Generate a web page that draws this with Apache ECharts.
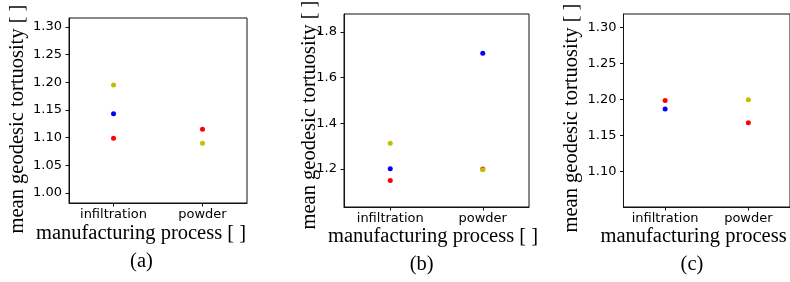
<!DOCTYPE html>
<html>
<head>
<meta charset="utf-8">
<script src="https://cdn.jsdelivr.net/npm/echarts@6/dist/echarts.min.js"></script>
<style>
  html, body { margin: 0; padding: 0; background: #fff; }
  #main { width: 790px; height: 282px; }
</style>
</head>
<body>
<div id="main"></div>
<script>
var categories = ['infiltration', 'powder'];

// panel (a)
var redA = [1.099, 1.115];
var blueA = [1.143, '-'];
var yellowA = [1.195, 1.090];
var ticksA = [1.00, 1.05, 1.10, 1.15, 1.20, 1.25, 1.30];

// panel (b)
var redB = [1.150, 1.200];
var blueB = [1.201, 1.707];
var yellowB = [1.313, 1.197];
var ticksB = [1.2, 1.4, 1.6, 1.8];

// panel (c)
var redC = [1.199, 1.168];
var blueC = [1.187, '-'];
var yellowC = ['-', 1.200];
var ticksC = [1.10, 1.15, 1.20, 1.25, 1.30];

var xTitle = 'manufacturing process [ ]';
var yTitle = 'mean geodesic tortuosity [ ]';

var chartDom = document.getElementById('main');
var myChart = echarts.init(chartDom, null, { renderer: 'canvas' });

var serif = '20.5px "Liberation Serif", "DejaVu Serif", serif';
var sans = '"DejaVu Sans"';

var panels = [
    { grid: { left: 69, top: 18, width: 178, height: 185 }, min: 0.982, max: 1.316, ticks: ticksA, dec: 2,
      red: redA, blue: blueA, yellow: yellowA,
      yLab: [18, 119], xLab: [141, 234], cap: [141.5, 262], name: '(a)' },
    { grid: { left: 344, top: 14, width: 185, height: 193 }, min: 1.034, max: 1.879, ticks: ticksB, dec: 1,
      red: redB, blue: blueB, yellow: yellowB,
      yLab: [309.5, 115], xLab: [433, 237], cap: [421.7, 265], name: '(b)' },
    { grid: { left: 623.5, top: 14, width: 175.4, height: 193 }, min: 1.051, max: 1.319, ticks: ticksC, dec: 2,
      red: redC, blue: blueC, yellow: yellowC,
      yLab: [572, 118], xLab: [705.5, 237], cap: [692, 265], name: '(c)' }
];

var grids = [], xAxes = [], yAxes = [], series = [], graphics = [];

panels.forEach(function (p, i) {
    grids.push(Object.assign({
        show: true,
        borderColor: '#111',
        borderWidth: 1,
        backgroundColor: 'transparent'
    }, p.grid));

    xAxes.push({
        type: 'category',
        gridIndex: i,
        data: categories,
        boundaryGap: true,
        axisLine: { show: true, lineStyle: { color: '#111', width: 1 } },
        axisTick: { show: true, alignWithLabel: true, interval: 0, length: 3.5, lineStyle: { color: '#111' } },
        axisLabel: {
            color: '#000', fontFamily: sans, fontSize: 13, margin: 5,
            interval: 0, showMinLabel: true, showMaxLabel: true, hideOverlap: false
        },
        splitLine: { show: false }
    });

    var dec = p.dec;
    yAxes.push({
        type: 'value',
        gridIndex: i,
        min: p.min,
        max: p.max,
        axisLine: { show: true, lineStyle: { color: '#111', width: 1 } },
        axisTick: { show: true, length: 3.5, customValues: p.ticks, lineStyle: { color: '#111' } },
        axisLabel: {
            color: '#000', fontFamily: sans, fontSize: 13, margin: 7,
            customValues: p.ticks,
            formatter: function (v) { return v.toFixed(dec); }
        },
        splitLine: { show: false }
    });

    // red, blue, then yellow on top (matplotlib draw order)
    [['#ff0000', p.red], ['#0000ff', p.blue], ['#bfbf00', p.yellow]].forEach(function (s) {
        series.push({
            type: 'scatter',
            xAxisIndex: i,
            yAxisIndex: i,
            symbol: 'circle',
            symbolSize: 5,
            itemStyle: { color: s[0], opacity: 1 },
            data: s[1]
        });
    });

    graphics.push({
        type: 'text', x: p.yLab[0], y: p.yLab[1], rotation: Math.PI / 2,
        style: { text: yTitle, font: serif, fill: '#000', align: 'center', verticalAlign: 'middle' }
    });
    graphics.push({
        type: 'text', x: p.xLab[0], y: p.xLab[1],
        style: { text: xTitle, font: serif, fill: '#000', align: 'center', verticalAlign: 'middle' }
    });
    graphics.push({
        type: 'text', x: p.cap[0], y: p.cap[1],
        style: { text: p.name, font: serif, fill: '#000', align: 'center', verticalAlign: 'middle' }
    });
});

var option = {
    backgroundColor: '#fff',
    animation: false,
    grid: grids,
    xAxis: xAxes,
    yAxis: yAxes,
    series: series,
    graphic: graphics
};

option && myChart.setOption(option);
</script>
</body>
</html>
